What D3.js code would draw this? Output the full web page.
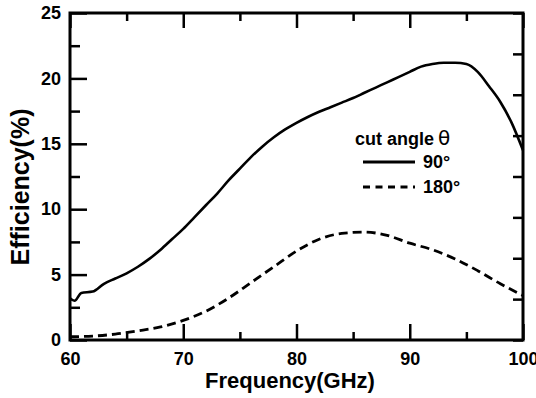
<!DOCTYPE html>
<html>
<head>
<meta charset="utf-8">
<script src="https://cdn.jsdelivr.net/npm/d3@7"></script>
<style>
  body { margin: 0; background: #fff; }
  text { font-family: "Liberation Sans", Arial, sans-serif; font-weight: bold; fill: #000; }
</style>
</head>
<body>
<svg id="chart" width="536" height="398"></svg>
<script>
// data
var freq90 = [60, 60.4, 61, 62, 63, 64, 65, 66, 67, 68, 69, 70, 71, 72, 73, 74, 75, 76, 77, 78, 79, 80,
              81, 82, 83, 84, 85, 86, 87, 88, 89, 90, 91, 92, 93, 94, 95, 96, 97, 98, 99, 100];
var eff90 = [3.2, 3.0, 3.6, 3.7, 4.3, 4.7, 5.1, 5.6, 6.2, 6.9, 7.7, 8.5, 9.4, 10.3, 11.2, 12.2, 13.1, 14.0, 14.8, 15.5, 16.1, 16.6,
             17.05, 17.45, 17.8, 18.15, 18.5, 18.9, 19.3, 19.7, 20.1, 20.5, 20.9, 21.1, 21.2, 21.2, 21.1, 20.5, 19.4, 18.2, 16.6, 14.5];

var freq180 = [60, 62, 64, 66, 68, 70, 72, 74, 76, 78, 80, 82, 84, 86, 88, 90, 92, 94, 96, 98, 100];
var eff180 = [0.25, 0.3, 0.45, 0.7, 1.0, 1.5, 2.2, 3.2, 4.4, 5.6, 6.8, 7.7, 8.15, 8.25, 8.0, 7.4, 6.9, 6.2, 5.3, 4.3, 3.4];

var xTicks = [60, 70, 80, 90, 100];
var xMinor = [65, 75, 85, 95];
var yTicks = [0, 5, 10, 15, 20, 25];
var yMinor = [2.5, 7.5, 12.5, 17.5, 22.5];
var legendLabels = ["90\u00b0", "180\u00b0"];

var margin = {top: 13, right: 13, bottom: 58, left: 70};
var width = 536, height = 398;
var w = width - margin.left - margin.right;
var h = height - margin.top - margin.bottom;

var svg = d3.select("#chart");
var chart = svg.append("g")
    .attr("transform", "translate(" + margin.left + "," + margin.top + ")");

var x = d3.scaleLinear().domain([60, 100]).range([0, w]);
var y = d3.scaleLinear().domain([0, 25]).range([h, 0]);
// right side has its own tick spacing (8 divisions)
var yRight = d3.scaleLinear().domain([0, 8]).range([h, 0]);

function styleAxis(g) {
  g.select(".domain").remove();
  g.selectAll(".tick line").attr("stroke", "#000").attr("stroke-width", 2.5);
  g.selectAll(".tick text").style("font-size", "18px");
}

// bottom axis
chart.append("g")
    .attr("transform", "translate(0," + h + ")")
    .call(d3.axisBottom(x).tickValues(xTicks).tickSize(-16).tickPadding(7).tickFormat(d3.format("d")))
    .call(styleAxis)
    .selectAll(".tick text").attr("dy", "1em");
chart.append("g")
    .attr("transform", "translate(0," + h + ")")
    .call(d3.axisBottom(x).tickValues(xMinor).tickSize(-8).tickFormat(""))
    .call(styleAxis);

// top axis
chart.append("g")
    .call(d3.axisTop(x).tickValues(xTicks).tickSize(-15).tickFormat(""))
    .call(styleAxis);
chart.append("g")
    .call(d3.axisTop(x).tickValues(xMinor).tickSize(-8).tickFormat(""))
    .call(styleAxis);

// left axis
chart.append("g")
    .call(d3.axisLeft(y).tickValues(yTicks).tickSize(-17).tickPadding(9))
    .call(styleAxis);
chart.append("g")
    .call(d3.axisLeft(y).tickValues(yMinor).tickSize(-10).tickFormat(""))
    .call(styleAxis);

// right axis
chart.append("g")
    .attr("transform", "translate(" + w + ",0)")
    .call(d3.axisRight(yRight).ticks(8).tickSize(-10).tickFormat(""))
    .call(styleAxis);

// frame
chart.append("rect")
    .attr("width", w).attr("height", h)
    .attr("fill", "none").attr("stroke", "#000").attr("stroke-width", 3);

var line = d3.line()
    .x(function(d) { return x(d[0]); })
    .y(function(d) { return y(d[1]); })
    .curve(d3.curveMonotoneX);

chart.append("path")
    .datum(d3.zip(freq90, eff90))
    .attr("d", line)
    .attr("fill", "none").attr("stroke", "#000").attr("stroke-width", 2.6);

chart.append("path")
    .datum(d3.zip(freq180, eff180))
    .attr("d", line)
    .attr("fill", "none").attr("stroke", "#000").attr("stroke-width", 2.8)
    .attr("stroke-dasharray", "9,5");

// axis titles
svg.append("text")
    .attr("x", 290).attr("y", 388)
    .style("text-anchor", "middle").style("font-size", "22px")
    .text("Frequency(GHz)");

svg.append("text")
    .attr("transform", "translate(29,187) rotate(-90)")
    .style("text-anchor", "middle").style("font-size", "25px")
    .text("Efficiency(%)");

// legend
var legend = svg.append("g");
var lt = legend.append("text").attr("x", 355).attr("y", 145).style("font-size", "18px");
lt.append("tspan").text("cut angle");
lt.append("tspan").attr("dx", 4).style("font-weight", "normal").style("font-size", "20px")
  .style("font-family", "DejaVu Sans").text("\u03b8");

legendLabels.forEach(function(lab, i) {
  var ly = 162 + i * 25;
  legend.append("line")
      .attr("x1", 363).attr("x2", 415).attr("y1", ly).attr("y2", ly)
      .attr("stroke", "#000").attr("stroke-width", 2.8)
      .attr("stroke-dasharray", i == 1 ? "7,5.5" : null);
  legend.append("text")
      .attr("x", 423).attr("y", ly + 6)
      .style("font-size", "18px")
      .text(lab);
});
</script>
</body>
</html>
